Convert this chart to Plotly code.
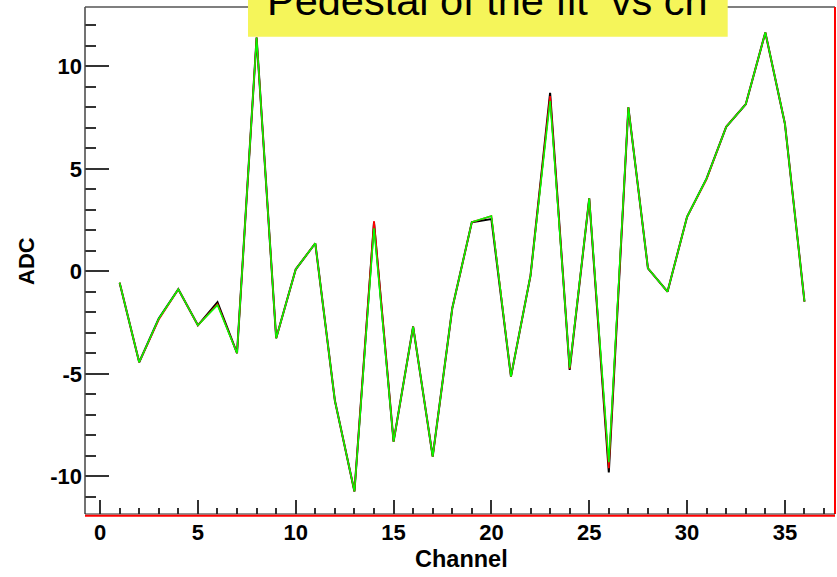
import plotly.graph_objects as go

channels = list(range(1, 37))
ped_black = [-0.55, -4.43, -2.3, -0.87, -2.63, -1.5, -3.99, 11.4, -3.26, 0.1,
             1.37, -6.3, -10.73, 2.4, -8.3, -2.69, -9.03, -1.8, 2.4, 2.55,
             -5.13, -0.2, 8.7, -4.8, 3.56, -9.8, 8.0, 0.15, -0.99, 2.66,
             4.53, 7.05, 8.15, 11.65, 7.2, -1.47]
ped_red = [-0.55, -4.43, -2.35, -0.87, -2.63, -1.6, -3.99, 11.4, -3.26, 0.1,
           1.37, -6.3, -10.73, 2.45, -8.3, -2.69, -9.03, -1.8, 2.4, 2.7,
           -5.13, -0.2, 8.55, -4.75, 3.56, -9.6, 8.0, 0.15, -0.99, 2.66,
           4.5, 7.05, 8.15, 11.65, 7.2, -1.47]
ped_green = [-0.55, -4.43, -2.3, -0.87, -2.63, -1.65, -3.99, 11.4, -3.26, 0.1,
             1.37, -6.3, -10.73, 2.1, -8.3, -2.69, -9.03, -1.8, 2.4, 2.7,
             -5.13, -0.2, 8.3, -4.7, 3.56, -9.3, 8.0, 0.15, -0.99, 2.66,
             4.53, 7.05, 8.15, 11.65, 7.2, -1.47]

x_ticks = [0, 5, 10, 15, 20, 25, 30, 35]
x_tick_labels = ["0", "5", "10", "15", "20", "25", "30", "35"]
y_ticks = [-10, -5, 0, 5, 10]
y_tick_labels = ["-10", "-5", "0", "5", "10"]

fig = go.Figure()
fig.add_trace(go.Scatter(x=channels, y=ped_black, mode="lines",
                         line=dict(color="black", width=2), showlegend=False))
fig.add_trace(go.Scatter(x=channels, y=ped_red, mode="lines",
                         line=dict(color="red", width=1.6), showlegend=False))
fig.add_trace(go.Scatter(x=channels, y=ped_green, mode="lines",
                         line=dict(color="#00ff00", width=1.5), showlegend=False))

W, H = 837, 577
L, R, T, B = 85, 2, 7, 63
pw, ph = W - L - R, H - T - B


def px(xp):
    return (xp - L) / pw


def py(yp):
    return (H - B - yp) / ph


tickfont = dict(family="Liberation Sans, Arial, sans-serif", size=22,
                color="black", weight="bold")

fig.update_layout(
    width=W, height=H,
    margin=dict(l=L, r=R, t=T, b=B, pad=0),
    paper_bgcolor="white", plot_bgcolor="white",
    xaxis=dict(range=[-0.77, 37.56], showgrid=False, zeroline=False,
               tickmode="array", tickvals=x_ticks, ticktext=x_tick_labels,
               ticks="inside",
               ticklen=14, tickwidth=1.5, tickcolor="#333333",
               minor=dict(ticks="inside", ticklen=6, dtick=1, tick0=0,
                          tickcolor="#333333", tickwidth=1.5),
               tickfont=tickfont, showline=False, ticklabelstandoff=3),
    yaxis=dict(range=[-11.83, 12.89], showgrid=False, zeroline=False,
               tickmode="array", tickvals=y_ticks, ticktext=y_tick_labels,
               ticks="inside",
               ticklen=24, tickwidth=1.5, tickcolor="#333333",
               minor=dict(ticks="inside", ticklen=11, dtick=1, tick0=0,
                          tickcolor="#333333", tickwidth=1.5),
               tickfont=tickfont, showline=False, ticklabelstandoff=2),
    shapes=[
        # frame
        dict(type="line", xref="paper", yref="paper", x0=0, x1=0, y0=0, y1=1,
             line=dict(color="#444444", width=1.5)),
        dict(type="line", xref="paper", yref="paper", x0=0, x1=1, y0=1, y1=1,
             line=dict(color="#555555", width=1.5)),
        dict(type="line", xref="paper", yref="paper", x0=1, x1=1, y0=0, y1=1,
             line=dict(color="red", width=2)),
        dict(type="line", xref="paper", yref="paper", x0=0, x1=1, y0=0, y1=0,
             line=dict(color="#222222", width=1)),
        dict(type="line", xref="paper", yref="paper", x0=0, x1=1,
             y0=py(515.8), y1=py(515.8), line=dict(color="red", width=2)),
        # title box
        dict(type="rect", xref="paper", yref="paper",
             x0=px(248), x1=px(727.7), y0=py(36.7), y1=py(-5),
             fillcolor="#f5f55a", line=dict(width=0)),
    ],
    annotations=[
        dict(text="Pedestal of the fit  vs ch", xref="paper", yref="paper",
             x=px(487.3), y=py(25.8), xanchor="center", yanchor="bottom",
             showarrow=False,
             font=dict(family="Liberation Sans, Arial, sans-serif", size=41.5,
                       color="black")),
        dict(text="ADC", xref="paper", yref="paper", x=px(26), y=py(261),
             xanchor="center", yanchor="middle", textangle=-90,
             showarrow=False,
             font=dict(family="Liberation Sans, Arial, sans-serif", size=22,
                       color="black", weight="bold")),
        dict(text="Channel", xref="paper", yref="paper", x=px(461.5),
             y=py(558.6), xanchor="center", yanchor="middle",
             showarrow=False,
             font=dict(family="Liberation Sans, Arial, sans-serif", size=23.5,
                       color="black", weight="bold")),
    ],
)

fig.write_html("out.html")
